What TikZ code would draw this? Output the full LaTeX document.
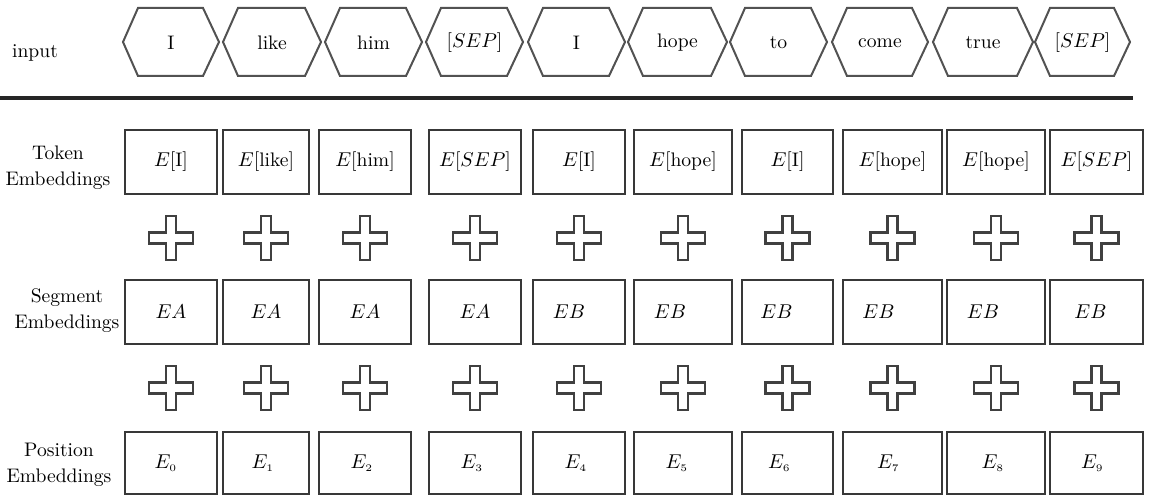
\documentclass[tikz,border=0pt]{standalone}
\usetikzlibrary{calc}
\newcommand{\Esub}[1]{$E_{\scriptscriptstyle #1}$}
\begin{document}
\begin{tikzpicture}[x=0.5pt,y=-0.5pt,
  lbl/.style={font=\fontsize{9.8}{13}\selectfont, text=black, align=center, inner sep=0pt},
  box/.style={draw=black!78, line width=1.15pt, rectangle, inner sep=0pt, text=black,
              font=\fontsize{9.8}{12}\selectfont},
  hexline/.style={draw=black!68, line width=1pt, line join=miter},
  hextext/.style={font=\fontsize{9.8}{12}\selectfont, text=black, inner sep=0pt},
  plusline/.style={draw=black!75, line width=1.05pt, line join=miter},
  rule/.style={draw=black!85, line width=1.8pt}]
\useasboundingbox (0,0) rectangle (1153,496);

% left labels
\node[lbl] (Linput) at (35,53) {input};
\node[lbl] (Ltok) at (58,168) {Token\\Embeddings};
\node[lbl] (Lseg) at (67,311) {Segment\\Embeddings};
\node[lbl] (Lpos) at (59,465) {Position\\Embeddings};

% input hexagons
\foreach \i/\l/\r/\txt in {1/123/219/I, 2/223/321/like, 3/325/422/him, 4/426/523/{[$SEP$]},
    5/528/625/I, 6/628/727/hope, 7/730/827/to, 8/832/928/come, 9/933/1033/true, 10/1035/1130/{[$SEP$]}} {
  \draw[hexline] (\l,42) -- ({\l+15},8) -- ({\r-16},8) -- (\r,42) -- ({\r-16},76) -- ({\l+15},76) -- cycle;
  \node[hextext] (h\i) at ({(\l+\r)/2},43) {\txt};
}

% separating rule
\coordinate (ruleL) at (0,98);
\coordinate (ruleR) at (1133,98);
\draw[rule] (ruleL) -- (ruleR);

% embedding boxes
\foreach \i/\l/\r/\tok/\seg/\pos in {
    1/125/217/{$E$[I]}/{$EA$}/{\Esub{0}\hspace*{5pt}},
    2/223/309/{$E$[like]}/{$EA$}/{\Esub{1}\hspace*{3pt}},
    3/319/411/{$E$[him]}/{$EA$}/{\Esub{2}\hspace*{3pt}},
    4/429/521/{$E$[$SEP$]}/{$EA$}/{\Esub{3}\hspace*{3pt}},
    5/533/625/{$E$[I]}/{$EB$\hspace*{10pt}}/{\Esub{4}\hspace*{3pt}},
    6/634/732/{$E$[hope]}/{$EB$\hspace*{13pt}}/{\Esub{5}\hspace*{6pt}},
    7/742/833/{$E$[I]}/{$EB$\hspace*{11pt}}/{\Esub{6}\hspace*{8pt}},
    8/843/942/{$E$[hope]}/{$EB$\hspace*{14pt}}/{\Esub{7}\hspace*{4pt}},
    9/947/1045/{$E$[hope]}/{$EB$\hspace*{13pt}}/{\Esub{8}\hspace*{3pt}},
    10/1050/1143/{$E$[$SEP$]}/{$EB$\hspace*{6pt}}/{\Esub{9}\hspace*{4pt}}} {
  \pgfmathsetmacro{\cx}{(\l+\r)/2}
  \node[box, minimum width={(\r-\l)*0.5pt}, minimum height=32pt] (t\i) at (\cx,162) {\tok};
  \node[box, minimum width={(\r-\l)*0.5pt}, minimum height=32pt] (s\i) at (\cx,312) {\seg};
  \node[box, minimum width={(\r-\l)*0.5pt}, minimum height=31pt] (p\i) at (\cx,463) {\pos};
  \foreach \cy in {238,388} {
    \draw[plusline] (\cx,\cy) ++(-5,-22) -- ++(10,0) -- ++(0,16.5) -- ++(17,0) -- ++(0,11)
      -- ++(-17,0) -- ++(0,16.5) -- ++(-10,0) -- ++(0,-16.5) -- ++(-17,0) -- ++(0,-11)
      -- ++(17,0) -- cycle;
  }
}
\end{tikzpicture}
\end{document}
